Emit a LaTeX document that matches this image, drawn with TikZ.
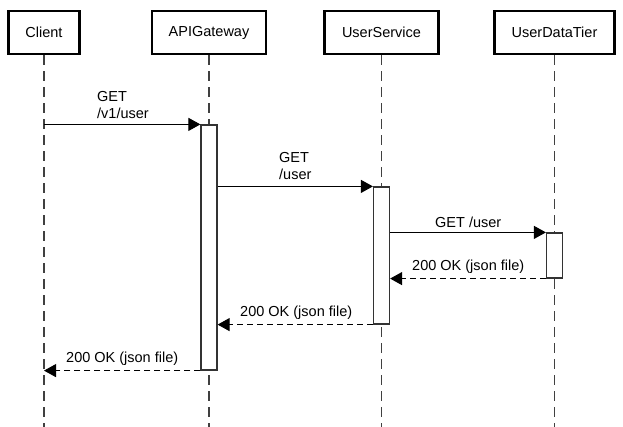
\documentclass[tikz,border=0pt]{standalone}
\usepackage{fontspec}
\setmainfont{Liberation Sans}
\usepackage{tikz}
\usetikzlibrary{arrows.meta}
\tikzset{>={Triangle[length=12pt,width=13pt]}}
\tikzset{
  actor/.style={draw,line width=2.5pt,minimum height=43pt,inner sep=0pt},
  lifeline/.style={line width=1.5pt,black!75,dash pattern=on 10pt off 6pt},
  bar/.style={draw,black!80,line width=1.2pt,fill=white,minimum width=16pt,inner sep=0pt},
  msg/.style={line width=1pt,->},
  reply/.style={msg,dash pattern=on 6pt off 4pt},
  lbl/.style={inner sep=0pt,align=left,anchor=west}
}

\begin{document}
\begin{tikzpicture}[x=1pt,y=-1pt,font=\fontsize{14.5}{17}\selectfont]
        \useasboundingbox (0,0) rectangle (623,427);

        % Participants
        \node[actor,minimum width=71pt] at (44,32.5) (client) {Client};
        \node[actor,minimum width=114pt] at (209,32.5) (gateway) {APIGateway};
        \node[actor,minimum width=114pt] at (381.5,32.5) (service) {UserService};
        \node[actor,minimum width=120pt] at (554.5,32.5) (datatier) {UserDataTier};

        % Lifelines
        \coordinate (client-end) at (44,427);
        \coordinate (gateway-end) at (209,427);
        \coordinate (service-end) at (381.5,427);
        \coordinate (datatier-end) at (554.5,427);
        \draw[lifeline] (client.south) -- (client-end);
        \draw[lifeline] (gateway.south) -- (gateway-end);
        \draw[lifeline] (service.south) -- (service-end);
        \draw[lifeline] (datatier.south) -- (datatier-end);

        % Activation bars
        \node[bar,minimum height=245pt] at (209,247.5) (gwbar) {};
        \node[bar,minimum height=137pt] at (381.5,255.5) (svcbar) {};
        \node[bar,minimum height=45pt] at (554.5,255.5) (tierbar) {};

        % Requests
        \draw[msg] (client |- gwbar.north) -- (gwbar.north west);
        \node[lbl] at (97,105) (m1) {GET\\/v1/user};
        \draw[msg] (gwbar.east |- svcbar.north) -- (svcbar.north west);
        \node[lbl] at (279,166.5) (m2) {GET\\/user};
        \draw[msg] (svcbar.east |- tierbar.north) -- (tierbar.north west);
        \node[lbl] at (435,222) (m3) {GET /user};

        % Replies
        \draw[reply] (tierbar.south west) -- (svcbar.east |- tierbar.south);
        \node[lbl] at (412,267) (m4) {200 OK (json file)};
        \draw[reply] (svcbar.south west) -- (gwbar.east |- svcbar.south);
        \node[lbl] at (240,313) (m5) {200 OK (json file)};
        \draw[reply] (gwbar.south west) -- (client |- gwbar.south);
        \node[lbl] at (66,359) (m6) {200 OK (json file)};

      \end{tikzpicture}
\end{document}
